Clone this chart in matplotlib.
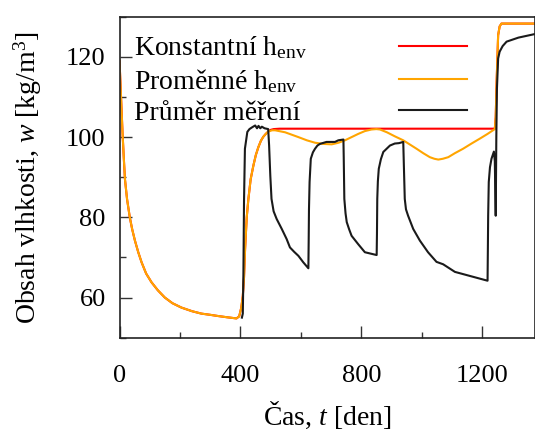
import matplotlib
matplotlib.use('Agg')
import matplotlib.pyplot as plt
from matplotlib.ticker import MultipleLocator

# spolecny pocatek obou simulaci (vysychani a prvni navlhceni)
t_start = [0, 5, 10, 14, 18, 25, 34, 42, 51, 62, 73, 88, 106, 127, 150, 175, 205, 240, 271, 300, 326, 355, 387,
           396, 403, 408, 412, 415.5, 421, 426.5, 434, 443, 451, 459.5, 468, 476, 484, 492.5]
w_start = [119.0, 110.0, 101.0, 95.0, 89.5, 84.5, 80.0, 77.0, 74.2, 71.3, 68.8, 66.0, 63.8, 61.8, 60.0, 58.6, 57.5, 56.6, 56.0, 55.7, 55.4, 55.1, 54.8,
           55.3, 57.5, 60.4, 65.0, 72.0, 80.0, 84.6, 89.5, 92.9, 95.5, 97.5, 99.1, 100.1, 100.8, 101.4]

# Konstantni h_env - pokracovani
t_const_end = [500, 510, 530, 1242, 1245, 1248, 1253, 1258, 1264, 1375]
w_const_end = [101.8, 102.0, 102.1, 102.1, 105.0, 113.8, 125.4, 127.6, 128.3, 128.3]

# Promenne h_env - pokracovani
t_var_end = [505, 515, 548, 592, 620, 647, 675, 702, 725, 746, 768, 790, 812, 834, 850, 862, 885, 911, 939, 960,
             983, 1005, 1027, 1042, 1055, 1070, 1088, 1110, 1137, 1165, 1192, 1218, 1242, 1245, 1248, 1253, 1258, 1264, 1375]
w_var_end = [101.7, 101.7, 101.2, 100.0, 99.2, 98.6, 98.3, 98.2, 98.6, 99.2, 100.0, 100.8, 101.5, 101.9, 102.0, 101.9, 101.2, 100.2, 99.2, 98.2,
             97.1, 96.0, 95.0, 94.6, 94.4, 94.6, 95.0, 96.0, 97.1, 98.4, 99.6, 100.8, 102.0, 105.0, 113.8, 125.4, 127.6, 128.3, 128.3]

# Prumer mereni
t_meas = [405, 408, 410, 412, 415, 423, 430, 440, 449, 455, 460, 466, 471, 480, 492,
          495, 499, 503, 510, 520, 537, 553, 564, 578, 592, 608, 625,
          626, 627, 629, 633, 640, 647, 655, 663, 685, 713, 724, 741,
          742, 744, 748, 752, 760, 768, 790, 812, 851,
          852, 853, 855, 858, 865, 873, 895, 911, 925, 939,
          941, 944, 948, 955, 972, 994, 1021, 1049, 1071, 1110, 1159, 1218,
          1219, 1220, 1222, 1226, 1231, 1239, 1242, 1245,
          1247, 1249, 1253, 1258, 1268, 1281, 1320, 1375]
w_meas = [55.0, 56.0, 66.0, 84.0, 97.1, 101.3, 102.0, 102.5, 102.9, 102.2, 102.8, 102.2, 102.6, 102.2, 102.0,
          98.0, 90.4, 84.6, 81.5, 79.6, 77.1, 74.6, 72.5, 71.4, 70.4, 68.8, 67.3,
          74.0, 82.0, 88.8, 94.6, 96.2, 97.1, 97.9, 98.3, 98.8, 98.8, 99.2, 99.4,
          95.0, 84.6, 81.0, 78.8, 77.0, 75.4, 73.3, 71.3, 70.6,
          76.0, 84.6, 89.0, 92.1, 94.5, 96.3, 97.9, 98.4, 98.5, 98.8,
          93.0, 84.6, 82.0, 80.4, 77.1, 74.2, 71.3, 68.9, 68.3, 66.4, 65.4, 64.2,
          72.0, 80.4, 88.8, 92.5, 94.6, 96.4, 94.0, 80.4,
          100.0, 112.0, 119.6, 121.3, 122.7, 123.8, 124.8, 125.7]

t_const = t_start + t_const_end
w_const = w_start + w_const_end
t_var = t_start + t_var_end
w_var = w_start + w_var_end

plt.rcParams['font.family'] = 'Liberation Serif'
plt.rcParams['mathtext.fontset'] = 'custom'
plt.rcParams['mathtext.rm'] = 'Liberation Serif'
plt.rcParams['mathtext.it'] = 'Liberation Serif:italic'
plt.rcParams['font.size'] = 19

fig = plt.figure(figsize=(5.35, 4.3), dpi=100)
ax = fig.add_axes([0.2234, 0.2147, 0.7766, 0.7463])

ax.plot(t_const, w_const, color='#ff0000', lw=1.5, label=r'Konstantní h$_{\mathrm{env}}$')
ax.plot(t_var, w_var, color='#ffa500', lw=1.5, label=r'Proměnné h$_{\mathrm{env}}$')
ax.plot(t_meas, w_meas, color='#1a1a1a', lw=1.5, label='Průměr měření')

ax.set_xlim(0, 1375)
ax.set_ylim(50, 130)
ax.xaxis.set_major_locator(MultipleLocator(400))
ax.xaxis.set_minor_locator(MultipleLocator(200))
ax.yaxis.set_major_locator(MultipleLocator(20))
ax.yaxis.set_minor_locator(MultipleLocator(10))
ax.tick_params(which='both', direction='in', color='#333333', width=1.0)
ax.tick_params(which='major', length=8.5)
ax.tick_params(which='minor', length=4.5)
ax.tick_params(axis='x', pad=20)
ax.tick_params(axis='y', pad=10)
for s in ax.spines.values():
    s.set_linewidth(1.2)
    s.set_color('#222222')

ax.set_xlabel(r'Čas, $t$ [den]', fontsize=20, labelpad=9)
ax.set_ylabel(r'Obsah vlhkosti, $w$ [kg/m$^3$]', fontsize=20, labelpad=16)

leg = ax.legend(loc='upper left', bbox_to_anchor=(0.035, 0.945), frameon=False, markerfirst=False,
                fontsize=20, handlelength=2.45, handletextpad=3.3, labelspacing=0.2,
                borderpad=0, borderaxespad=0)

# texty legendy zarovnat vlevo, cary zustanou pod sebou vpravo
fig.canvas.draw()
r = fig.canvas.get_renderer()
rows = leg._legend_handle_box.get_children()[0].get_children()
sirky = [row.get_children()[0].get_bbox(r).width for row in rows]
for row, w in zip(rows, sirky):
    row.sep = 3.3 * 20 + (max(sirky) - w) * 72 / fig.dpi

fig.savefig('out.png', dpi=100)
